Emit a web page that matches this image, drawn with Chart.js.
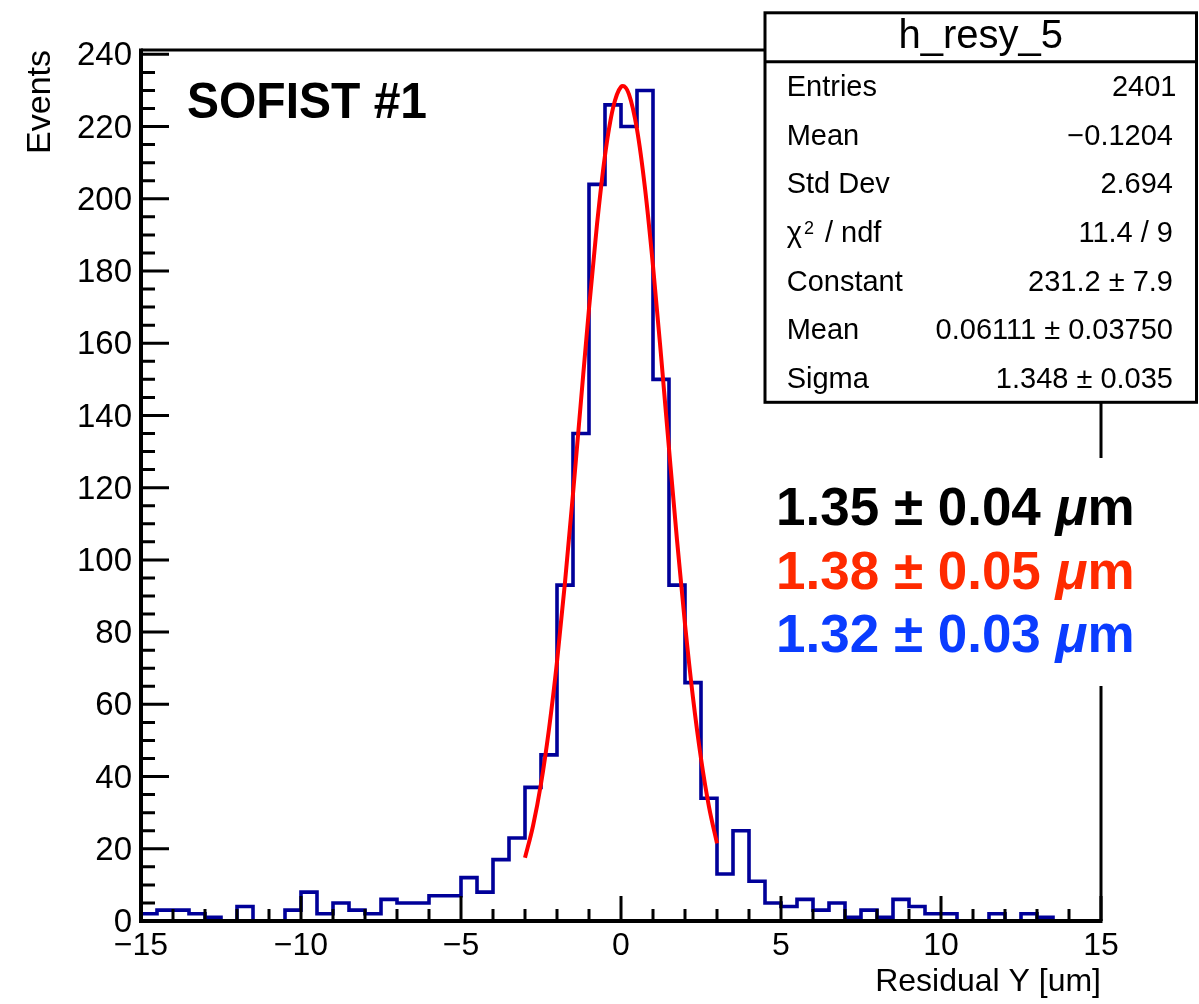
<!DOCTYPE html>
<html>
<head>
<meta charset="utf-8">
<script src="https://cdn.jsdelivr.net/npm/chart.js@4.4.1/dist/chart.umd.min.js"></script>
<style>
  html, body { margin: 0; padding: 0; background: #ffffff; }
  #wrap { width: 1199px; height: 1004px; position: relative; }
</style>
</head>
<body>
<div id="wrap"><canvas id="c" width="1199" height="1004"></canvas></div>
<script>
// ---------------- data ----------------
const xMin = -15;
const xMax = 15;
const binWidth = 0.5;
const yMax = 241.2;
const xTickStep = 5;
const yTickStep = 20;

// histogram counts, 60 bins of 0.5 from -15 to 15
const binCounts = [
  2, 3, 3, 2, 1, 0, 4, 0, 0, 3,
  8, 2, 5, 3, 2, 6, 5, 5, 7, 7,
  12, 8, 17, 23, 37, 46, 93, 135, 204, 226,
  220, 230, 150, 93, 66, 34, 13, 25, 11, 5,
  4, 6, 3, 5, 1, 3, 1, 6, 4, 2,
  2, 0, 0, 2, 0, 2, 1, 0, 0, 0
];

// fitted curve
const fitX = [-3, -2.75, -2.5, -2.25, -2, -1.75, -1.5, -1.25, -1, -0.75, -0.5, -0.25, 0, 0.06,
              0.25, 0.5, 0.75, 1, 1.25, 1.5, 1.75, 2, 2.25, 2.5, 2.75, 3];
const fitY = [17.5, 26.3, 38.0, 53.2, 71.8, 93.8, 118.3, 144.1, 169.6, 192.9, 212.0, 225.1, 231.0, 231.2,
              228.9, 219.2, 202.9, 181.4, 156.7, 130.8, 105.5, 82.2, 61.8, 45.0, 31.6, 21.5];

const xTitle = 'Residual Y [um]';
const yTitle = 'Events';
const plotLabel = 'SOFIST #1';

const statsTitle = 'h_resy_5';
const statsLabels = ['Entries', 'Mean', 'Std Dev', 'CHI2', 'Constant', 'Mean', 'Sigma'];
const statsValues = ['2401', '\u22120.1204', '2.694', '11.4 / 9', '231.2 \u00b1 7.9', '0.06111 \u00b1 0.03750', '1.348 \u00b1 0.035'];

const resultTexts = ['1.35 \u00b1 0.04 ', '1.38 \u00b1 0.05 ', '1.32 \u00b1 0.03 '];
const resultColors = ['#000000', '#ff2a00', '#0a3cff'];

// ---------------- build ----------------
const histPoints = binCounts.map((c, i) => ({ x: xMin + i * binWidth, y: c }));
histPoints.push({ x: xMax, y: binCounts[binCounts.length - 1] });
const fitPoints = fitX.map((v, i) => ({ x: v, y: fitY[i] }));

const FONT = '"Liberation Sans", Arial, Helvetica, sans-serif';

const overlay = {
  id: 'overlay',
  afterDraw(chart) {
    const { ctx, chartArea: ca, scales } = chart;
    const xs = scales.x, ys = scales.y;
    ctx.save();
    ctx.strokeStyle = '#000';
    ctx.lineCap = 'butt';

    // tick marks (inward)
    ctx.lineWidth = 3;
    ctx.beginPath();
    for (let v = xMin; v <= xMax + 1e-9; v += 1) {
      const px = xs.getPixelForValue(v);
      const len = (Math.abs(v % xTickStep) < 1e-9) ? 25 : 12;
      ctx.moveTo(px, ca.bottom);
      ctx.lineTo(px, ca.bottom - len);
    }
    for (let v = 0; v <= yMax + 1e-9; v += yTickStep / 4) {
      const py = ys.getPixelForValue(v);
      const len = (Math.abs(v % yTickStep) < 1e-9) ? 28 : 14;
      ctx.moveTo(ca.left, py);
      ctx.lineTo(ca.left + len, py);
    }
    ctx.stroke();

    // frame top & right
    ctx.lineWidth = 3;
    ctx.beginPath();
    ctx.moveTo(ca.left, ca.top);
    ctx.lineTo(ca.right, ca.top);
    ctx.lineTo(ca.right, ca.bottom);
    ctx.stroke();
    // axis lines left & bottom
    ctx.lineWidth = 4;
    ctx.beginPath();
    ctx.moveTo(ca.left, ca.top - 1.5);
    ctx.lineTo(ca.left, ca.bottom);
    ctx.lineTo(ca.right + 1.5, ca.bottom);
    ctx.stroke();

    // plot label
    ctx.fillStyle = '#000';
    ctx.font = 'bold 50px ' + FONT;
    ctx.textAlign = 'left';
    ctx.textBaseline = 'alphabetic';
    ctx.fillText(plotLabel, 187, 118, 240);

    // white text pave (covers frame)
    ctx.fillStyle = '#ffffff';
    ctx.fillRect(770, 458, 400, 228);

    // result lines
    const baseY = [525, 588.5, 652];
    resultTexts.forEach((t, i) => {
      let x = 776;
      ctx.fillStyle = resultColors[i];
      ctx.textAlign = 'left';
      ctx.font = 'bold 53px ' + FONT;
      ctx.fillText(t, x, baseY[i]);
      x += ctx.measureText(t).width;
      ctx.font = 'italic bold 53px ' + FONT;
      ctx.fillText('\u03bc', x, baseY[i]);
      x += ctx.measureText('\u03bc').width;
      ctx.font = 'bold 53px ' + FONT;
      ctx.fillText('m', x, baseY[i]);
    });

    // stats box
    const bx0 = 765, bx1 = 1196.5, by0 = 12.8, by1 = 402.3, sep = 61.7;
    ctx.fillStyle = '#ffffff';
    ctx.fillRect(bx0, by0, bx1 - bx0, by1 - by0);
    ctx.lineWidth = 3;
    ctx.strokeStyle = '#000';
    ctx.strokeRect(bx0, by0, bx1 - bx0, by1 - by0);
    ctx.beginPath();
    ctx.moveTo(bx0, sep);
    ctx.lineTo(bx1, sep);
    ctx.stroke();

    ctx.fillStyle = '#000';
    ctx.font = '40px ' + FONT;
    ctx.textAlign = 'center';
    ctx.fillText(statsTitle, (bx0 + bx1) / 2, 48);

    ctx.font = '29px ' + FONT;
    for (let i = 0; i < statsLabels.length; i++) {
      const yb = 96 + i * 48.67;
      ctx.textAlign = 'left';
      if (statsLabels[i] === 'CHI2') {
        ctx.font = '29px ' + FONT;
        ctx.fillText('\u03c7', 786.7, yb);
        ctx.font = '18px ' + FONT;
        ctx.fillText('2', 804, yb - 8);
        ctx.font = '29px ' + FONT;
        ctx.fillText('/ ndf', 825, yb);
      } else {
        ctx.fillText(statsLabels[i], 786.7, yb);
      }
      ctx.textAlign = 'right';
      ctx.fillText(statsValues[i], i === 0 ? 1176.5 : 1173, yb);
    }
    ctx.restore();
  }
};

new Chart(document.getElementById('c'), {
  type: 'line',
  data: {
    datasets: [
      {
        label: 'fit',
        data: fitPoints,
        borderColor: '#ff0000',
        borderWidth: 4,
        pointRadius: 0,
        fill: false,
        cubicInterpolationMode: 'monotone'
      },
      {
        label: 'hist',
        data: histPoints,
        borderColor: '#000099',
        borderWidth: 3.6,
        pointRadius: 0,
        fill: false,
        stepped: true
      }
    ]
  },
  options: {
    responsive: false,
    animation: false,
    devicePixelRatio: 1,
    layout: { padding: { top: 50, right: 98, left: 0, bottom: 0 } },
    plugins: { legend: { display: false }, tooltip: { enabled: false } },
    scales: {
      x: {
        type: 'linear',
        min: xMin,
        max: xMax,
        afterFit: s => { s.height = 83; },
        grid: { display: false, drawTicks: false },
        border: { display: false },
        ticks: {
          stepSize: xTickStep,
          includeBounds: false,
          padding: 6,
          color: '#000',
          font: { family: FONT, size: 32 },
          maxRotation: 0,
          autoSkip: false,
          callback: v => (v < 0 ? '\u2212' + Math.abs(v) : String(v))
        },
        title: {
          display: true,
          text: xTitle,
          align: 'end',
          color: '#000',
          font: { family: FONT, size: 32 },
          padding: { top: 0, bottom: 3 }
        }
      },
      y: {
        type: 'linear',
        min: 0,
        max: yMax,
        afterFit: s => { s.width = 141; },
        grid: { display: false, drawTicks: false },
        border: { display: false },
        ticks: {
          stepSize: yTickStep,
          includeBounds: false,
          padding: 9,
          labelOffset: 2,
          color: '#000',
          font: { family: FONT, size: 33 },
          autoSkip: false
        },
        title: {
          display: true,
          text: yTitle,
          align: 'end',
          color: '#000',
          font: { family: FONT, size: 34 },
          padding: { top: 20, bottom: 0 }
        }
      }
    }
  },
  plugins: [overlay]
});
</script>
</body>
</html>
